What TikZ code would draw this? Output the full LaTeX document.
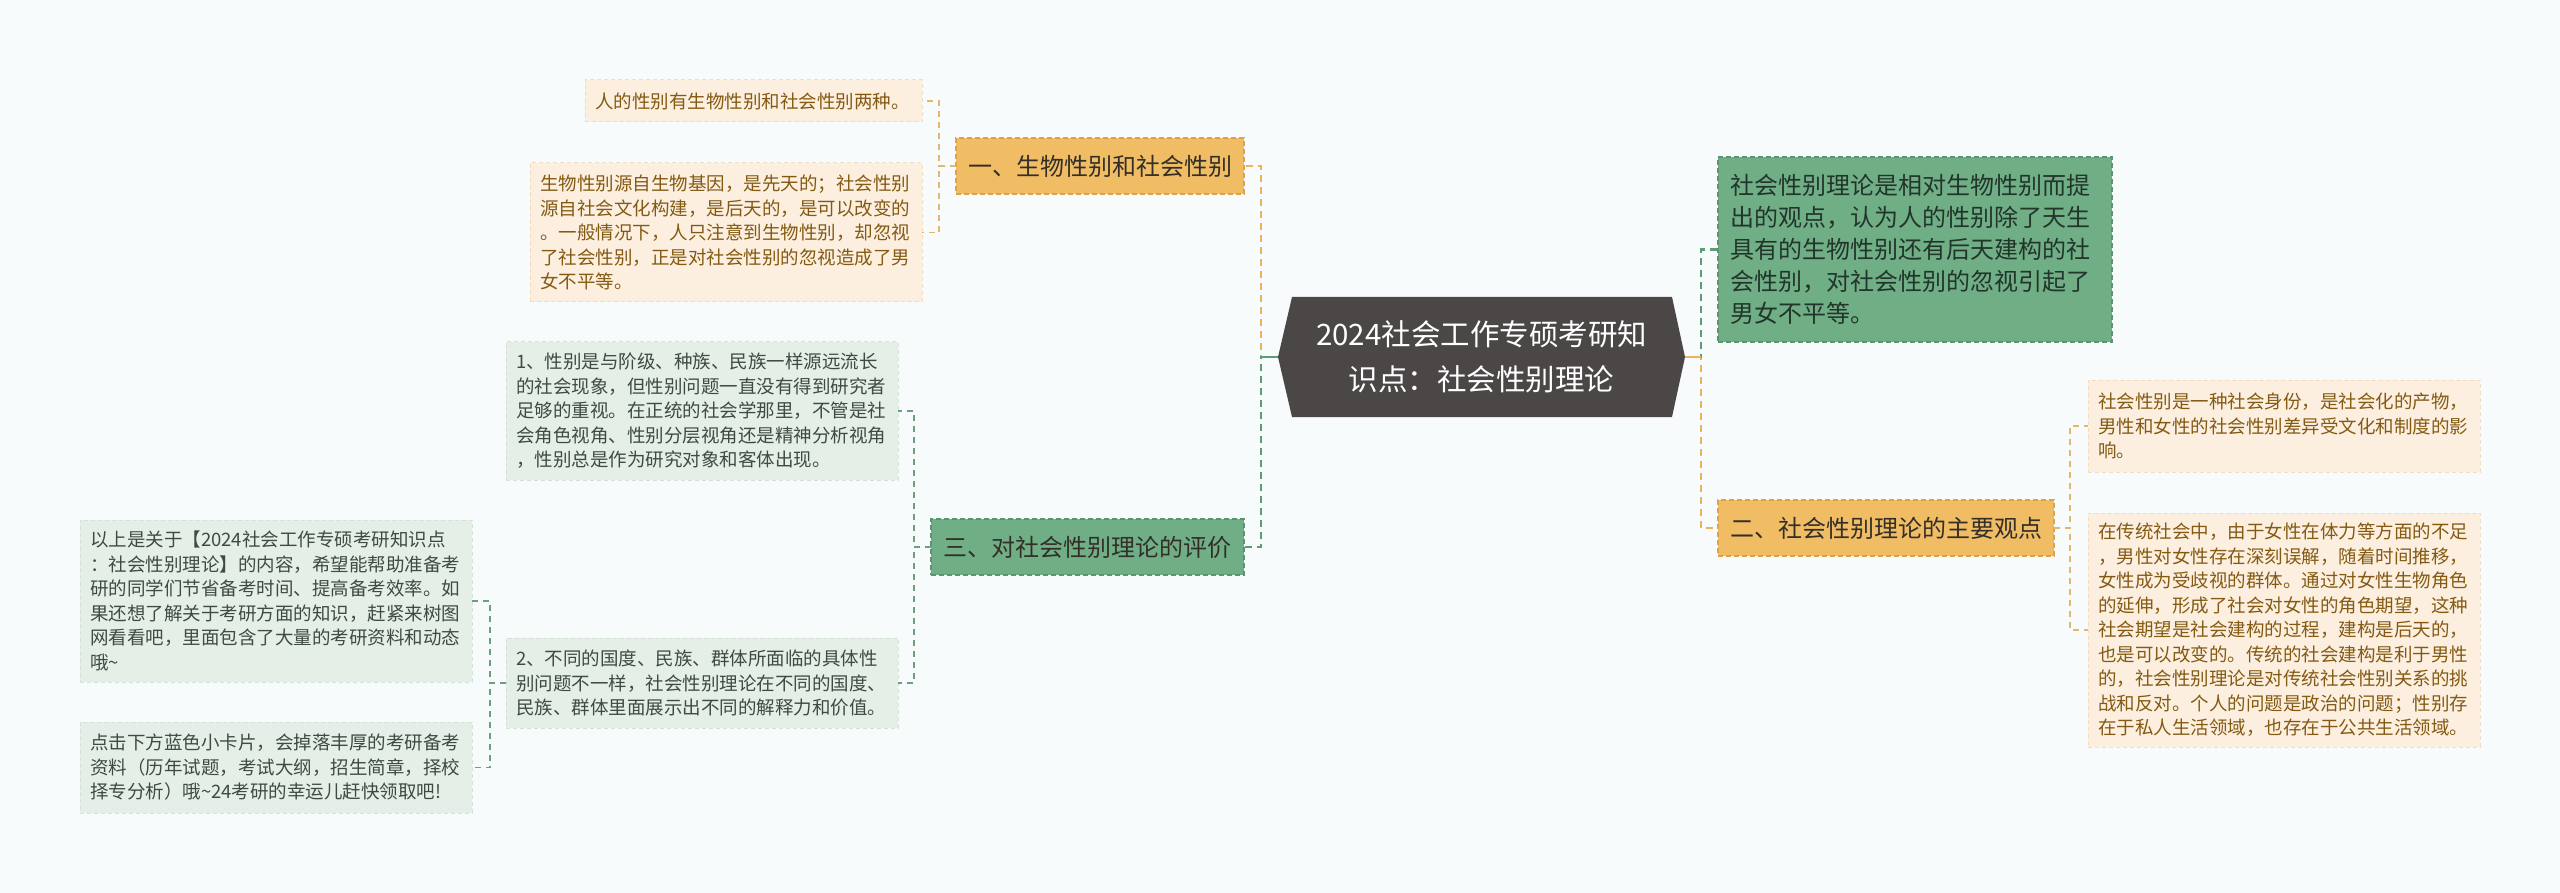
\documentclass[tikz,border=0pt]{standalone}
\usepackage{fontspec}
\setmainfont{Noto Sans CJK SC}
\usetikzlibrary{backgrounds}
\definecolor{bg}{HTML}{F8FBFC}
\definecolor{hexc}{HTML}{4B4747}
\definecolor{orfill}{HTML}{F0BC64}
\definecolor{orline}{HTML}{E9B45A}
\definecolor{orborder}{HTML}{DCA24C}
\definecolor{grfill}{HTML}{70AE86}
\definecolor{grline}{HTML}{5E9C76}
\definecolor{grborder}{HTML}{5A9470}
\definecolor{olfill}{HTML}{FCEFE0}
\definecolor{olborder}{HTML}{F3DDBF}
\definecolor{oltext}{HTML}{845A12}
\definecolor{olline}{HTML}{E2B770}
\definecolor{glfill}{HTML}{E5EFE7}
\definecolor{glborder}{HTML}{D3E3D7}
\definecolor{gltext}{HTML}{3E4B40}
\definecolor{glline}{HTML}{6E9E80}
\definecolor{btext}{HTML}{332F28}
\definecolor{gtext}{HTML}{22352A}
\begin{document}
\begin{tikzpicture}[x=1pt,y=-1pt,
  box/.style={anchor=north west, inner sep=0pt, outer sep=0pt},
  leafbase/.style={box, align=left, font=\fontsize{18.5}{24.5}\selectfont, inner xsep=10pt, dash pattern=on 4pt off 3pt, line width=1pt},
  orleaf/.style={leafbase, fill=olfill, draw=olborder, text=oltext},
  grleaf/.style={leafbase, fill=glfill, draw=glborder, text=gltext},
  branch/.style={box, align=center, font=\fontsize{24}{30}\selectfont, text=btext, dash pattern=on 5pt off 3pt, line width=1.2pt},
  orbranch/.style={branch, fill=orfill, draw=orborder},
  grbranch/.style={branch, fill=grfill, draw=grborder},
  orlink/.style={draw=orline, line width=2.5pt, dash pattern=on 7pt off 5pt},
  grlink/.style={draw=grline, line width=2.5pt, dash pattern=on 7pt off 5pt},
  orleaflink/.style={draw=olline, line width=1.6pt, dash pattern=on 6pt off 5pt},
  grleaflink/.style={draw=glline, line width=1.6pt, dash pattern=on 6pt off 5pt},
]
% centre
\node[font=\fontsize{29.5}{45}\selectfont, text=white, align=center, minimum width=407pt, minimum height=120pt, inner sep=0pt, outer sep=0pt] (center) at (1481.5,357) {2024社会工作专硕考研知\\识点：社会性别理论};

% branch 1
\node[orbranch, minimum width=288pt, minimum height=56pt] (b1) at (956,138) {一、生物性别和社会性别};
\node[orleaf, text width=317pt, minimum height=42pt] (o1a) at (585,80) {人的性别有生物性别和社会性别两种。};
\node[orleaf, text width=372pt, minimum height=139pt] (o1b) at (530,163) {生物性别源自生物基因，是先天的；社会性别\\源自社会文化构建，是后天的，是可以改变的\\。一般情况下，人只注意到生物性别，却忽视\\了社会性别，正是对社会性别的忽视造成了男\\女不平等。};

% branch 3
\node[grbranch, minimum width=313pt, minimum height=56pt] (b3) at (931,519) {三、对社会性别理论的评价};
\node[grleaf, text width=372pt, minimum height=138pt] (g3a) at (506,342) {1、性别是与阶级、种族、民族一样源远流长\\的社会现象，但性别问题一直没有得到研究者\\足够的重视。在正统的社会学那里，不管是社\\会角色视角、性别分层视角还是精神分析视角\\，性别总是作为研究对象和客体出现。};
\node[grleaf, text width=372pt, minimum height=90pt] (g3b) at (506,638) {2、不同的国度、民族、群体所面临的具体性\\别问题不一样，社会性别理论在不同的国度、\\民族、群体里面展示出不同的解释力和价值。};
\node[grleaf, text width=372pt, minimum height=162pt] (g3c) at (80,520) {以上是关于【2024社会工作专硕考研知识点\\：社会性别理论】的内容，希望能帮助准备考\\研的同学们节省备考时间、提高备考效率。如\\果还想了解关于考研方面的知识，赶紧来树图\\网看看吧，里面包含了大量的考研资料和动态\\哦\textasciitilde};
\node[grleaf, text width=372pt, minimum height=91pt] (g3d) at (80,722) {点击下方蓝色小卡片，会掉落丰厚的考研备考\\资料（历年试题，考试大纲，招生简章，择校\\择专分析）哦\textasciitilde 24考研的幸运儿赶快领取吧!};

% right green
\node[box, align=left, fill=grfill, draw=grborder, dash pattern=on 5pt off 3pt, line width=1.2pt, text=gtext, font=\fontsize{24}{32}\selectfont, inner xsep=12pt, text width=370pt, minimum height=185pt] (g0) at (1718,157) {社会性别理论是相对生物性别而提\\出的观点，认为人的性别除了天生\\具有的生物性别还有后天建构的社\\会性别，对社会性别的忽视引起了\\男女不平等。};

% branch 2
\node[orbranch, minimum width=336pt, minimum height=56pt] (b2) at (1718,500) {二、社会性别理论的主要观点};
\node[orleaf, text width=372pt, minimum height=92pt] (o2a) at (2088,380) {社会性别是一种社会身份，是社会化的产物，\\男性和女性的社会性别差异受文化和制度的影\\响。};
\node[orleaf, text width=372pt, minimum height=234pt] (o2b) at (2088,513) {在传统社会中，由于女性在体力等方面的不足\\，男性对女性存在深刻误解，随着时间推移，\\女性成为受歧视的群体。通过对女性生物角色\\的延伸，形成了社会对女性的角色期望，这种\\社会期望是社会建构的过程，建构是后天的，\\也是可以改变的。传统的社会建构是利于男性\\的，社会性别理论是对传统社会性别关系的挑\\战和反对。个人的问题是政治的问题；性别存\\在于私人生活领域，也存在于公共生活领域。};

\begin{scope}[on background layer]
\fill[bg] (0,0) rectangle (2560,893);
\fill[hexc] (center.west) -- ([xshift=14pt]center.north west) -- ([xshift=-13pt]center.north east) -- (center.east) -- ([xshift=-13pt]center.south east) -- ([xshift=14pt]center.south west) -- cycle;
\end{scope}

% connectors from centre
\draw[orlink] (center.west) -- ++(-17,0) |- (b1.east);
\draw[grlink] (center.west) -- ++(-17,0) |- (b3.east);
\draw[draw=grline, line width=2.5pt] (center.west) -- ++(-17,0);
\draw[orlink] (center.east) -- ++(16,0) |- (b2.west);
\draw[grlink] (center.east) -- ++(16,0) |- (g0.west);
\draw[draw=orline, line width=2.5pt] (center.east) -- ++(16,0);

% leaf connectors
\draw[orleaflink] (b1.west) -- ++(-17,0) |- (o1a.east);
\draw[orleaflink] (b1.west) -- ++(-17,0) |- (o1b.east);
\draw[grleaflink] (b3.west) -- ++(-17,0) |- (g3a.east);
\draw[grleaflink] (b3.west) -- ++(-17,0) |- (g3b.east);
\draw[grleaflink] (g3b.west) -- ++(-16,0) |- (g3c.east);
\draw[grleaflink] (g3b.west) -- ++(-16,0) |- (g3d.east);
\draw[orleaflink] (b2.east) -- ++(16,0) |- (o2a.west);
\draw[orleaflink] (b2.east) -- ++(16,0) |- (o2b.west);
\end{tikzpicture}
\end{document}
